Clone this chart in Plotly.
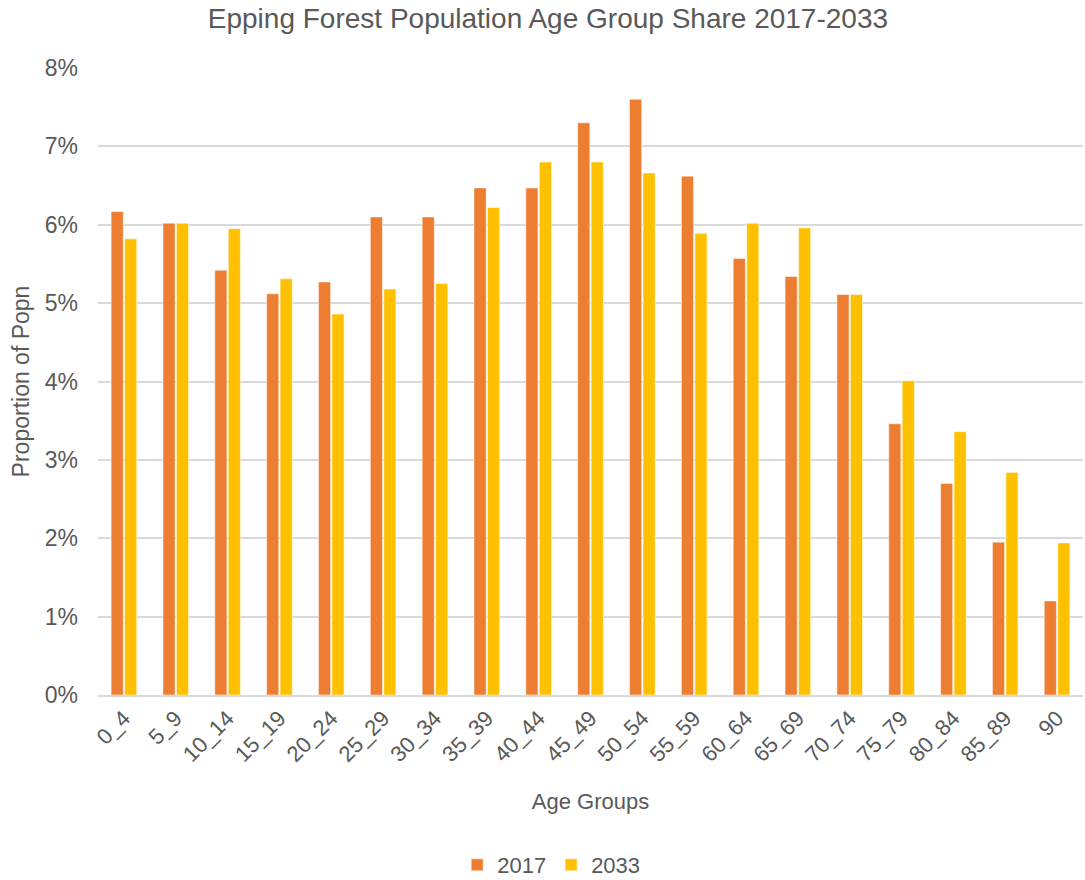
import plotly.graph_objects as go

categories = ["0_4", "5_9", "10_14", "15_19", "20_24", "25_29", "30_34", "35_39",
              "40_44", "45_49", "50_54", "55_59", "60_64", "65_69", "70_74",
              "75_79", "80_84", "85_89", "90"]
values_2017 = [6.17, 6.02, 5.42, 5.12, 5.27, 6.10, 6.10, 6.47, 6.47, 7.30,
               7.60, 6.62, 5.57, 5.34, 5.11, 3.46, 2.70, 1.95, 1.20]
values_2033 = [5.82, 6.02, 5.95, 5.31, 4.86, 5.18, 5.25, 6.22, 6.80, 6.80,
               6.66, 5.89, 6.02, 5.96, 5.11, 4.01, 3.36, 2.84, 1.94]
y_ticks = [0, 1, 2, 3, 4, 5, 6, 7, 8]
y_tick_labels = [f"{v}%" for v in y_ticks]

FONT = "Liberation Sans, Arial, sans-serif"
GRAY = "#595959"

fig = go.Figure()
fig.add_trace(go.Bar(name="2017", x=categories, y=values_2017,
                     marker=dict(color="#ED7D31", line=dict(color="rgba(255,255,255,0.5)", width=1))))
fig.add_trace(go.Bar(name="2033", x=categories, y=values_2033,
                     marker=dict(color="#FFC000", line=dict(color="rgba(255,255,255,0.5)", width=1))))

fig.update_layout(
    width=1085, height=880,
    margin=dict(l=98, r=2, t=68, b=185),
    paper_bgcolor="white", plot_bgcolor="white",
    font=dict(family=FONT, color=GRAY, size=22),
    title=dict(text="Epping Forest Population Age Group Share 2017-2033",
               x=0.505, xref="container", xanchor="center",
               y=0.979, yref="container", yanchor="middle",
               font=dict(size=28, color=GRAY, family=FONT)),
    barmode="group", bargap=0.48, bargroupgap=0.1,
    showlegend=True,
    legend=dict(orientation="h", x=0.508, xref="container", xanchor="center",
                y=0.017, yref="container", yanchor="middle",
                font=dict(size=22, color=GRAY), itemwidth=30,
                traceorder="normal"),
    xaxis=dict(title=dict(text="Age Groups", font=dict(size=22, color=GRAY), standoff=28),
               tickangle=-45, tickfont=dict(size=22, color=GRAY),
               showline=True, linecolor="#D9D9D9", linewidth=1.5,
               showgrid=False, ticks=""),
    yaxis=dict(title=dict(text="Proportion of Popn", font=dict(size=23, color=GRAY), standoff=8),
               range=[0, 8], tickvals=y_ticks, ticktext=y_tick_labels,
               tickfont=dict(size=23, color=GRAY),
               showgrid=True, gridcolor="#D9D9D9", gridwidth=1.5,
               zeroline=False, ticks="", ticklabelstandoff=19),
)

fig.write_html("out.html", config={"displayModeBar": False},
               post_script="document.body.style.margin='0px';")
